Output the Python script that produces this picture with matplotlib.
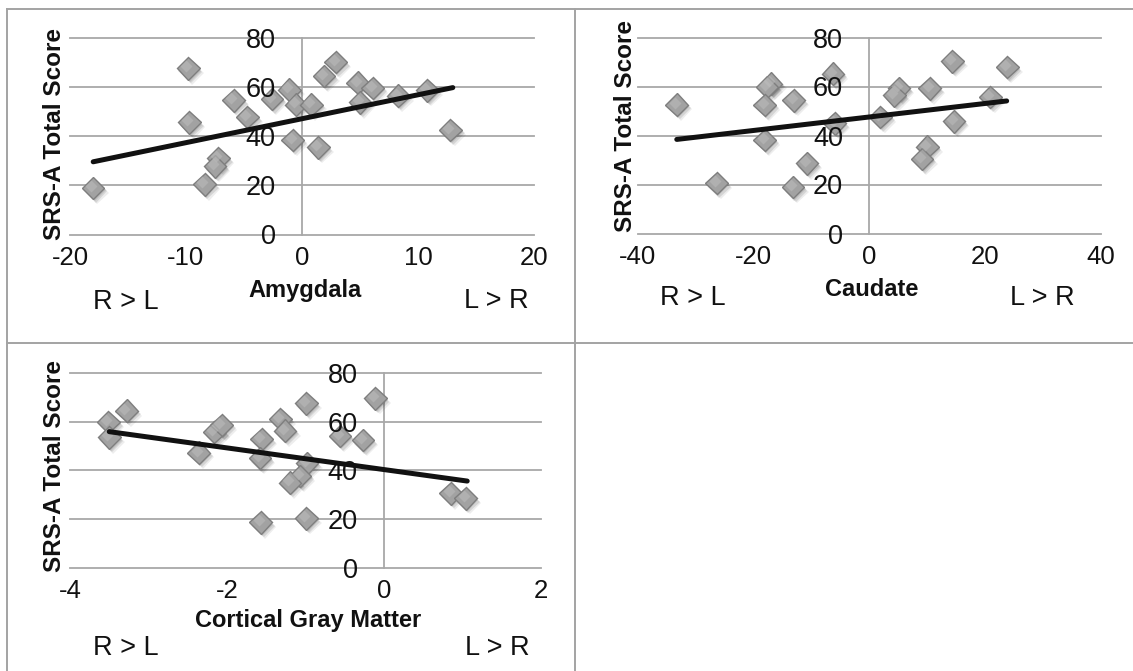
import numpy as np
import matplotlib
matplotlib.use('Agg')
import matplotlib.pyplot as plt
from matplotlib.lines import Line2D
import matplotlib.patheffects as pe
import matplotlib.transforms as mtransforms

plt.rcParams['font.family'] = ['Liberation Sans', 'DejaVu Sans']
plt.rcParams['axes.unicode_minus'] = False

# ---------------- data ----------------
amyg_x = [-18.0, -9.8, -9.7, -8.4, -7.2, -7.5, -5.9, -4.7, -2.6, -1.1, -0.5,
          -0.8, 0.8, 1.4, 1.9, 2.9, 4.8, 5.0, 6.1, 8.3, 10.8, 12.8]
amyg_y = [19.0, 67.6, 45.6, 20.4, 31.0, 27.8, 54.6, 47.8, 55.2, 59.0, 52.9,
          38.5, 52.9, 35.5, 64.5, 70.2, 61.8, 53.8, 59.7, 56.5, 58.7, 42.6]
amyg_trend_x = [-18.0, 13.0]
amyg_trend_y = [29.6, 59.8]

caud_x = [-33.3, -26.4, -17.0, -17.7, -18.1, -13.1, -6.3, -18.1, -10.8, -13.2,
          -6.0, 1.9, 5.1, 4.3, 10.4, 10.0, 9.1, 14.3, 23.8, 20.9, 14.6]
caud_y = [52.6, 20.6, 61.2, 59.8, 52.5, 54.4, 65.2, 38.2, 28.6, 18.9,
          45.0, 47.6, 59.2, 56.4, 59.2, 35.4, 30.4, 70.3, 67.9, 55.7, 45.8]
caud_trend_x = [-33.3, 23.7]
caud_trend_y = [38.4, 54.1]

cgm_x = [-3.51, -3.50, -3.28, -2.36, -2.16, -2.07, -0.99, -0.11, -1.32, -1.26,
         -1.56, -1.58, -0.56, -0.27, -0.98, -1.07, -1.20, -1.57, -0.99, 0.85, 1.04]
cgm_y = [59.8, 53.5, 64.5, 47.3, 55.7, 58.7, 67.5, 69.6, 61.1, 56.3,
         52.8, 45.0, 54.1, 52.4, 42.9, 37.7, 35.0, 18.6, 20.3, 30.5, 28.5]
cgm_trend_x = [-3.5, 1.06]
cgm_trend_y = [55.9, 35.6]

y_ticks = [0, 20, 40, 60, 80]
amyg_xticks = [-20, -10, 0, 10, 20]
caud_xticks = [-40, -20, 0, 20, 40]
cgm_xticks = [-4, -2, 0, 2]

ylabel_text = 'SRS-A Total Score'
side_left = 'R > L'
side_right = 'L > R'

# ---------------- layout ----------------
W, H = 1133, 671
fig = plt.figure(figsize=(W / 100, H / 100), dpi=100)

GRID = '#a8a8a8'
BORDER = '#a3a3a3'

panels = [
    dict(x=amyg_x, y=amyg_y, tx=amyg_trend_x, ty=amyg_trend_y, xticks=amyg_xticks,
         xlabel='Amygdala', rect=(70, 38, 534, 234.5), ylab=(55, 134),
         xlab=(305, 297), rl=(126, 309), lr=(496, 308)),
    dict(x=caud_x, y=caud_y, tx=caud_trend_x, ty=caud_trend_y, xticks=caud_xticks,
         xlabel='Caudate', rect=(638, 37.5, 1101, 233.5), ylab=(625, 126),
         xlab=(872, 296.5), rl=(693, 305), lr=(1042, 305)),
    dict(x=cgm_x, y=cgm_y, tx=cgm_trend_x, ty=cgm_trend_y, xticks=cgm_xticks,
         xlabel='Cortical Gray Matter', rect=(70, 373, 541, 567.7), ylab=(55, 466),
         xlab=(308, 627), rl=(126, 655), lr=(497, 655)),
]

shadow = [pe.SimplePatchShadow(offset=(1.0, -1.5), shadow_rgbFace='black', alpha=0.10),
          pe.SimplePatchShadow(offset=(2.0, -2.5), shadow_rgbFace='black', alpha=0.10),
          pe.SimplePatchShadow(offset=(3.0, -3.5), shadow_rgbFace='black', alpha=0.07),
          pe.Normal()]

for p in panels:
    l, t, r, b = p['rect']
    ax = fig.add_axes([l / W, 1 - b / H, (r - l) / W, (b - t) / H])
    ax.set_xlim(p['xticks'][0], p['xticks'][-1])
    ax.set_ylim(0, 80)
    ax.patch.set_visible(False)
    for s in ('top', 'right', 'bottom'):
        ax.spines[s].set_visible(False)
    ax.spines['left'].set_position(('data', 0))
    ax.spines['left'].set_color(GRID)
    ax.spines['left'].set_linewidth(1.3)
    ax.set_xticks(p['xticks'])
    ax.set_yticks(y_ticks)
    ax.tick_params(axis='both', length=0, labelcolor='#111111')
    ax.tick_params(axis='y', pad=19, labelsize=19.5)
    ax.tick_params(axis='x', pad=8, labelsize=18.5)
    ax.yaxis.set_zorder(5)
    for yv in y_ticks:
        ax.axhline(yv, color=GRID, lw=1.3, zorder=1, clip_on=False)

    ax.plot(p['x'], p['y'], linestyle='none', marker='D', ms=11.5,
            mfc='#a2a2a2', mec='#7e7e7e', mew=1.0, zorder=3, path_effects=shadow)
    hl = mtransforms.offset_copy(ax.transData, fig=fig, x=-1.5, y=1.5, units='points')
    ax.plot(p['x'], p['y'], linestyle='none', marker='D', ms=6.0,
            mfc='#bdbdbd', mec='none', alpha=0.55, zorder=3.1, transform=hl)

    ax.plot(p['tx'], p['ty'], color='#111111', lw=3.6, solid_capstyle='round', zorder=4)

    fig.text(p['ylab'][0] / W, 1 - p['ylab'][1] / H, ylabel_text, rotation=90,
             ha='center', va='center', fontsize=17.5, fontweight='bold', color='#111111')
    fig.text(p['xlab'][0] / W, 1 - p['xlab'][1] / H, p['xlabel'], ha='center',
             va='baseline', fontsize=17, fontweight='bold', color='#111111')
    fig.text(p['rl'][0] / W, 1 - p['rl'][1] / H, side_left, ha='center',
             va='baseline', fontsize=19.5, color='#111111')
    fig.text(p['lr'][0] / W, 1 - p['lr'][1] / H, side_right, ha='center',
             va='baseline', fontsize=19.5, color='#111111')

# table-like border lines
def hline(y, x0, x1):
    fig.add_artist(Line2D([x0 / W, x1 / W], [1 - y / H, 1 - y / H],
                          transform=fig.transFigure, color=BORDER, lw=1.4))

def vline(x, y0, y1):
    fig.add_artist(Line2D([x / W, x / W], [1 - y0 / H, 1 - y1 / H],
                          transform=fig.transFigure, color=BORDER, lw=1.4))

hline(9, 7, W)
hline(343, 7, W)
vline(7, 9, H)
vline(575, 9, H)

fig.savefig('out.png', dpi=100)
